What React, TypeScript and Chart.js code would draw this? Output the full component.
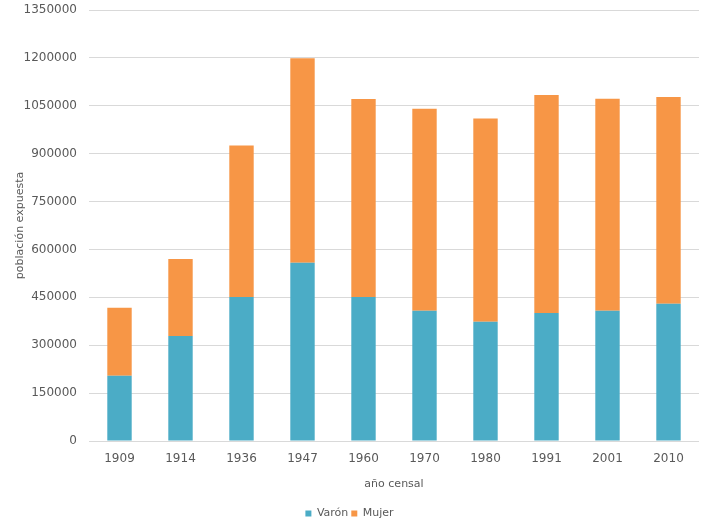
import React, { useEffect, useRef } from "react";
import { Chart, registerables } from "chart.js";

Chart.register(...registerables);

const categories = ["1909", "1914", "1936", "1947", "1960", "1970", "1980", "1991", "2001", "2010"];
const varon = [204000, 328600, 451000, 558600, 451000, 408000, 373400, 400700, 408000, 430000];
const mujer = [213400, 241600, 474700, 640100, 620000, 633000, 637100, 682900, 664300, 647300];
const yTicks = [0, 150000, 300000, 450000, 600000, 750000, 900000, 1050000, 1200000, 1350000];

const FAMILY = "'Liberation Sans Narrow', 'Arial Narrow', 'DejaVu Sans', sans-serif";
const font = { family: FAMILY, size: 12 };
const smallFont = { family: FAMILY, size: 11 };
const TXT = "#595959";

export default function App() {
  const ref = useRef<HTMLCanvasElement | null>(null);
  useEffect(() => {
    if (!ref.current) return;
    const chart = new Chart(ref.current, {
      type: "bar",
      data: {
        labels: categories,
        datasets: [
          { label: "Varón", data: varon, backgroundColor: "#4BACC6", borderWidth: 0, barPercentage: 0.4, categoryPercentage: 1 },
          { label: "Mujer", data: mujer, backgroundColor: "#F79646", borderWidth: 0, barPercentage: 0.4, categoryPercentage: 1 },
        ],
      },
      options: {
        animation: false,
        responsive: true,
        maintainAspectRatio: false,
        layout: { padding: { top: 10, right: 10, left: 0, bottom: -4 } },
        plugins: {
          legend: {
            position: "bottom",
            labels: {
              boxWidth: 6,
              boxHeight: 6,
              padding: 3,
              color: TXT,
              font: smallFont,
            },
          },
          tooltip: { enabled: false },
        },
        scales: {
          x: {
            stacked: true,
            grid: { display: false, drawTicks: false },
            border: { display: false },
            afterFit: (scale: any) => {
              scale.height = 64;
            },
            ticks: { color: TXT, font, padding: 11 },
            title: { display: true, text: "año censal", color: TXT, font: smallFont, padding: { top: 0, bottom: 14 } },
          },
          y: {
            stacked: true,
            min: 0,
            max: 1350000,
            afterBuildTicks: (scale: any) => {
              scale.ticks = yTicks.map((v) => ({ value: v }));
            },
            afterFit: (scale: any) => {
              scale.width = 89;
              scale.paddingTop = 0;
              scale.paddingBottom = 0;
            },
            grid: { color: "#D9D9D9", lineWidth: 1, drawTicks: false },
            border: { display: false },
            ticks: { color: TXT, font, padding: 12, callback: (v: any) => String(v) },
            title: { display: true, text: "población expuesta", color: TXT, font: smallFont, padding: { top: 14, bottom: 0 } },
          },
        },
      },
    });
    return () => chart.destroy();
  }, []);
  return (
    <div style={{ position: "fixed", left: 0, top: 0, width: 709, height: 525, background: "#fff" }}>
      <canvas ref={ref} />
    </div>
  );
}
